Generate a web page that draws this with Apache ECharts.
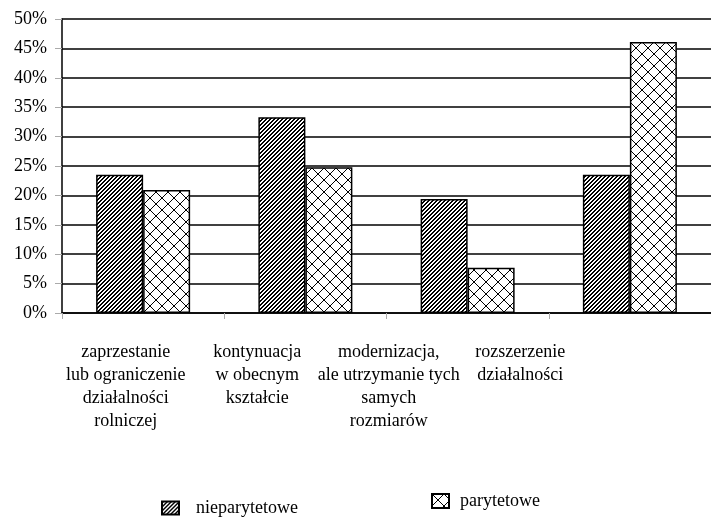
<!DOCTYPE html>
<html>
<head>
<meta charset="utf-8">
<script src="https://cdn.jsdelivr.net/npm/echarts@6/dist/echarts.min.js"></script>
<style>
    html, body { margin: 0; padding: 0; background: #fff; }
    #chart { width: 711px; height: 518px; }
</style>
</head>
<body>
<div id="chart"></div>
<script>
var categories = [
    'zaprzestanie\nlub ograniczenie\ndziałalności\nrolniczej',
    'kontynuacja\nw obecnym\nkształcie',
    'modernizacja,\nale utrzymanie tych\nsamych\nrozmiarów',
    'rozszerzenie\ndziałalności'
];
var seriesNames = ['nieparytetowe', 'parytetowe'];
var nieparytetowe = [23.5, 33.3, 19.4, 23.5];
var parytetowe = [20.9, 24.8, 7.7, 46.1];
var yTicks = [0, 50, 5]; // min, max, interval

var font = '"Liberation Serif", "DejaVu Serif", serif';

// wzor rysowany piksel po pikselu, zeby byl ostry
function pixelPattern(size, isBlack) {
    var c = document.createElement('canvas');
    c.width = size;
    c.height = size;
    var ctx = c.getContext('2d');
    ctx.fillStyle = '#fff';
    ctx.fillRect(0, 0, size, size);
    ctx.fillStyle = '#000';
    for (var x = 0; x < size; x++) {
        for (var y = 0; y < size; y++) {
            if (isBlack(x, y, size)) {
                ctx.fillRect(x, y, 1, 1);
            }
        }
    }
    return { image: c, repeat: 'repeat' };
}

// ukosne kreski
var hatch = pixelPattern(4, function (x, y, s) {
    return (x + y) % s < 2;
});

// kratka (romby)
var cross = pixelPattern(12, function (x, y, s) {
    return x === y || x + y === s - 1;
});

var myChart = echarts.init(document.getElementById('chart'));

var option = {
    animation: false,
    backgroundColor: '#fff',
    textStyle: { fontFamily: font, color: '#000' },
    grid: [
        { left: 62, top: 19, width: 652, height: 294 },
        { left: 60, top: 19, width: 526, height: 294 }
    ],
    legend: [
        {
            data: [seriesNames[0]],
            icon: 'rect',
            left: 161,
            top: 499,
            padding: 0,
            itemWidth: 17,
            itemHeight: 13,
            textStyle: { fontFamily: font, fontSize: 18, color: '#000', padding: [3, 0, 0, 12] }
        },
        {
            data: [seriesNames[1]],
            icon: 'rect',
            left: 431,
            top: 492,
            padding: 0,
            itemWidth: 17,
            itemHeight: 14,
            textStyle: { fontFamily: font, fontSize: 18, color: '#000', padding: [2, 0, 0, 6] }
        }
    ],
    xAxis: [
        {
            type: 'category',
            gridIndex: 0,
            data: categories,
            axisLine: { lineStyle: { color: '#000', width: 1.5 } },
            axisTick: { show: true, length: 6, lineStyle: { color: '#aaa' } },
            axisLabel: { show: false }
        },
        {
            type: 'category',
            gridIndex: 1,
            data: categories,
            axisLine: { show: false },
            axisTick: { show: false },
            axisLabel: {
                margin: 28,
                fontFamily: font,
                fontSize: 18,
                lineHeight: 23,
                color: '#000',
                interval: 0,
                align: 'center'
            }
        }
    ],
    yAxis: [
        {
            type: 'value',
            gridIndex: 0,
            min: yTicks[0],
            max: yTicks[1],
            interval: yTicks[2],
            axisLine: { show: true, lineStyle: { color: '#000', width: 1.5 } },
            axisTick: { show: true, length: 7, lineStyle: { color: '#aaa' } },
            axisLabel: {
                margin: 15,
                fontFamily: font,
                fontSize: 18,
                color: '#000',
                formatter: '{value}%'
            },
            splitLine: { lineStyle: { color: '#000', width: 1.5 } }
        },
        {
            type: 'value',
            gridIndex: 1,
            show: false,
            min: yTicks[0],
            max: yTicks[1]
        }
    ],
    series: [
        {
            name: seriesNames[0],
            type: 'bar',
            xAxisIndex: 0,
            yAxisIndex: 0,
            barWidth: 47,
            barGap: '0%',
            data: nieparytetowe,
            itemStyle: { color: hatch, borderColor: '#000', borderWidth: 1.5 }
        },
        {
            name: seriesNames[1],
            type: 'bar',
            xAxisIndex: 0,
            yAxisIndex: 0,
            barWidth: 47,
            barGap: '0%',
            data: parytetowe,
            itemStyle: { color: cross, borderColor: '#000', borderWidth: 1.5 }
        }
    ]
};

myChart.setOption(option);
</script>
</body>
</html>
